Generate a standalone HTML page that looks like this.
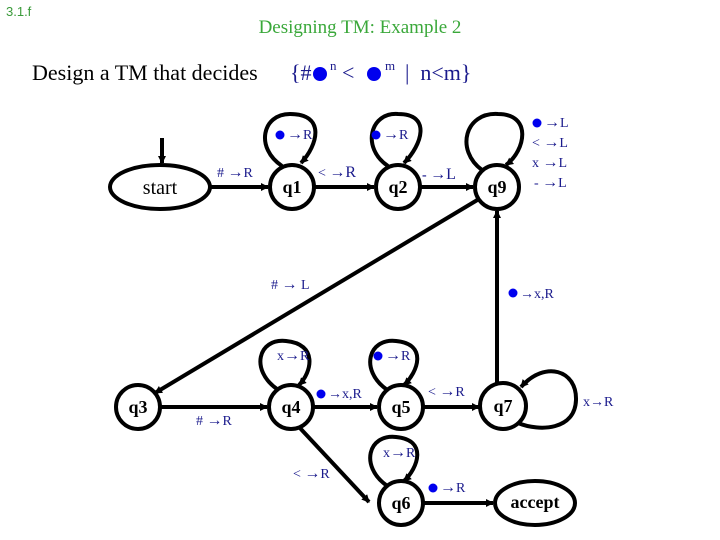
<!DOCTYPE html>
<html><head><meta charset="utf-8"><style>
html,body{margin:0;padding:0;background:#fff;}
svg{display:block;}
.n{font-family:"Liberation Serif",serif;font-weight:bold;font-size:18px;fill:#000;text-anchor:middle;}
.l{font-family:"Liberation Serif",serif;font-size:14px;fill:#1a1a8c;}
.l tspan.ar{font-size:16px;}
</style></head><body>
<svg width="720" height="540" viewBox="0 0 720 540" xmlns="http://www.w3.org/2000/svg">
<defs><marker id="a" markerWidth="8" markerHeight="8" refX="7" refY="4" orient="auto" markerUnits="userSpaceOnUse"><path d="M0,0 L8,4 L0,8 z" fill="#000"/></marker></defs>
<text x="6" y="16" font-family="Liberation Sans,sans-serif" font-size="13" fill="#3a9a3a">3.1.f</text>
<text x="360" y="33" text-anchor="middle" font-family="Liberation Serif,serif" font-size="19" fill="#3aa83a">Designing TM: Example 2</text>
<text x="32" y="80" font-family="Liberation Serif,serif" font-size="22" fill="#000">Design a TM that decides</text>
<text x="290" y="80" font-family="Liberation Serif,serif" font-size="22" fill="#1a1a8c">{#</text>
<circle cx="320" cy="74" r="7" fill="#0000ee"/>
<text x="330" y="70" font-family="Liberation Serif,serif" font-size="13" fill="#1a1a8c">n</text>
<text x="342" y="80" font-family="Liberation Serif,serif" font-size="22" fill="#1a1a8c">&lt;</text>
<circle cx="374" cy="74" r="7" fill="#0000ee"/>
<text x="385" y="70" font-family="Liberation Serif,serif" font-size="13" fill="#1a1a8c">m</text>
<text x="405" y="80" font-family="Liberation Serif,serif" font-size="22" fill="#1a1a8c">|&#160; n&lt;m}</text>

<g stroke="#000" stroke-width="4" fill="none">
<ellipse cx="160" cy="187" rx="50" ry="22"/>
<circle cx="292" cy="187" r="22"/>
<circle cx="398" cy="187" r="22"/>
<circle cx="497" cy="187" r="22"/>
<circle cx="138" cy="407" r="22"/>
<circle cx="291" cy="407" r="22"/>
<circle cx="401" cy="407" r="22"/>
<circle cx="503" cy="406" r="23"/>
<circle cx="401" cy="503" r="22"/>
<ellipse cx="535" cy="503" rx="40" ry="22"/>
<line x1="162" y1="138" x2="162" y2="163" marker-end="url(#a)"/>
<line x1="210" y1="187" x2="268" y2="187" marker-end="url(#a)"/>
<line x1="314" y1="187" x2="374" y2="187" marker-end="url(#a)"/>
<line x1="420" y1="187" x2="473" y2="187" marker-end="url(#a)"/>
<line x1="479" y1="199" x2="155" y2="393" marker-end="url(#a)"/>
<line x1="497" y1="383" x2="497" y2="211" marker-end="url(#a)"/>
<line x1="160" y1="407" x2="267" y2="407" marker-end="url(#a)"/>
<line x1="313" y1="407" x2="377" y2="407" marker-end="url(#a)"/>
<line x1="423" y1="407" x2="479" y2="407" marker-end="url(#a)"/>
<line x1="299" y1="427" x2="369" y2="502" marker-end="url(#a)"/>
<line x1="423" y1="503" x2="493" y2="503" marker-end="url(#a)"/>
<path d="M282,166 C255,148 262,114 290,114 C326,114 318,145 301,163" marker-end="url(#a)"/>
<path d="M388,166 C361,148 370,112 398,114 C432,114 422,145 404,163" marker-end="url(#a)"/>
<path d="M482,170 C455,150 465,112 498,114 C532,114 526,150 506,165" marker-end="url(#a)"/>
<path d="M277,389 C250,370 258,338 286,341 C318,344 312,372 299,385" marker-end="url(#a)"/>
<path d="M386,389 C360,370 368,338 396,341 C428,344 418,372 404,385" marker-end="url(#a)"/>
<path d="M386,485 C360,466 368,434 396,437 C428,440 418,468 404,481" marker-end="url(#a)"/>
<path d="M518,423 C540,432 575,430 576,400 C577,370 545,360 521,387" marker-end="url(#a)"/>
</g>

<text class="n" x="160" y="194" style="font-weight:normal;font-size:20px">start</text>
<text class="n" x="292" y="193">q1</text>
<text class="n" x="398" y="193">q2</text>
<text class="n" x="497" y="193">q9</text>
<text class="n" x="138" y="413">q3</text>
<text class="n" x="291" y="413">q4</text>
<text class="n" x="401" y="413">q5</text>
<text class="n" x="503" y="412">q7</text>
<text class="n" x="401" y="509">q6</text>
<text class="n" x="535" y="508">accept</text>

<g fill="#0000ee">
<circle cx="280" cy="135" r="4.5"/><circle cx="376" cy="135" r="4.5"/>
<circle cx="537" cy="123" r="4.5"/><circle cx="513" cy="293" r="4.5"/>
<circle cx="378" cy="356" r="4.5"/><circle cx="321" cy="394" r="4.5"/>
<circle cx="433" cy="488" r="4.5"/>
</g>
<text class="l" x="287" y="139"><tspan class="ar">→</tspan>R</text>
<text class="l" x="383" y="139"><tspan class="ar">→</tspan>R</text>
<text class="l" x="217" y="177"># <tspan class="ar">→</tspan>R</text>
<text class="l" x="318" y="177">&lt; <tspan font-size="16">→R</tspan></text>
<text class="l" x="422" y="179"><tspan font-weight="bold">-</tspan> <tspan font-size="16">→L</tspan></text>
<text class="l" x="544" y="127"><tspan class="ar">→</tspan>L</text>
<text class="l" x="532" y="147">&lt; <tspan class="ar">→</tspan>L</text>
<text class="l" x="532" y="167">x <tspan class="ar">→</tspan>L</text>
<text class="l" x="534" y="187">- <tspan class="ar">→</tspan>L</text>
<text class="l" x="271" y="289"># <tspan class="ar">→</tspan> L</text>
<text class="l" x="520" y="298" font-size="16">→x,R</text>
<text class="l" x="277" y="360">x<tspan class="ar">→</tspan>R</text>
<text class="l" x="385" y="360"><tspan class="ar">→</tspan>R</text>
<text class="l" x="328" y="398" font-size="16">→x,R</text>
<text class="l" x="196" y="425"># <tspan class="ar">→</tspan>R</text>
<text class="l" x="428" y="396">&lt; <tspan class="ar">→</tspan>R</text>
<text class="l" x="583" y="406" font-size="16">x→R</text>
<text class="l" x="383" y="457">x<tspan class="ar">→</tspan>R</text>
<text class="l" x="293" y="478">&lt; <tspan class="ar">→</tspan>R</text>
<text class="l" x="440" y="492"><tspan class="ar">→</tspan>R</text>
</svg>
</body></html>
